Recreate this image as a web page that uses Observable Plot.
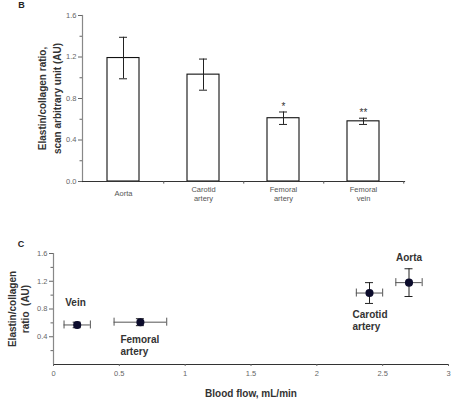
<!DOCTYPE html>
<html>
<head>
<meta charset="utf-8">
<script src="https://cdn.jsdelivr.net/npm/d3@7"></script>
<script src="https://cdn.jsdelivr.net/npm/@observablehq/plot@0.6"></script>
<style>
  html, body { margin: 0; padding: 0; background: #fff; }
  #chart { width: 463px; height: 400px; }
  #chart svg { display: block; }
</style>
</head>
<body>
<div id="chart"></div>
<script>
// Panel B: elastin/collagen ratio per vessel (mean ± SEM)
const tissues = ["Aorta", "Carotid artery", "Femoral artery", "Femoral vein"];
const tissueTickLabels = ["Aorta", "Carotid\nartery", "Femoral\nartery", "Femoral\nvein"];
const ratioMean = [1.19, 1.03, 0.61, 0.58];
const ratioSem = [0.20, 0.15, 0.06, 0.03];
const significance = ["", "", "*", "**"];
const yTicksB = [0, 0.4, 0.8, 1.2, 1.6];
const yMinorB = [0.2, 0.6, 1.0, 1.4];

// Panel C: ratio against blood flow (mean ± SEM on both axes)
const sites = ["Aorta", "Carotid artery", "Femoral artery", "Vein"];
const siteLabels = ["Aorta", "Carotid\nartery", "Femoral\nartery", "Vein"];
const bloodFlow = [2.70, 2.40, 0.66, 0.18];
const bloodFlowSem = [0.10, 0.10, 0.20, 0.10];
const siteRatio = [1.18, 1.03, 0.61, 0.57];
const siteRatioSem = [0.20, 0.15, 0.05, 0.04];
const xTicksC = [0, 0.5, 1, 1.5, 2, 2.5, 3];
const yTicksC = [0.4, 0.8, 1.2, 1.6];
const yMinorC = [0.2, 0.6, 1.0, 1.4];

const font = "'Liberation Sans', Arial, Helvetica, sans-serif";
const tickColor = "#666";
const titleColor = "#333";

const bars = tissues.map((t, i) => ({
  tissue: t, label: tissueTickLabels[i], mean: ratioMean[i], sem: ratioSem[i], sig: significance[i]
}));
const points = sites.map((s, i) => ({
  site: s, label: siteLabels[i], flow: bloodFlow[i], flowSem: bloodFlowSem[i],
  ratio: siteRatio[i], ratioSem: siteRatioSem[i]
}));

const W = 463;
const marginLeftB = 82, marginRightB = 59;
const stepB = (W - marginLeftB - marginRightB) / tissues.length;

const chartB = Plot.plot({
  width: W,
  height: 215,
  marginTop: 15,
  marginBottom: 34,
  marginLeft: marginLeftB,
  marginRight: marginRightB,
  style: { fontFamily: font, background: "#fff", overflow: "visible" },
  x: { domain: tissues, paddingInner: 0.6, paddingOuter: 0.3, label: null },
  y: { domain: [0, 1.6], label: null },
  marks: [
    Plot.barY(bars, { x: "tissue", y: "mean", fill: "#fff", stroke: "#111", strokeWidth: 1.1 }),
    Plot.ruleX(bars, { x: "tissue", y1: d => d.mean - d.sem, y2: d => d.mean + d.sem, stroke: "#222", strokeWidth: 1 }),
    Plot.tickY(bars, { x: "tissue", y: d => d.mean + d.sem, stroke: "#222", strokeWidth: 1, insetLeft: 12, insetRight: 12 }),
    Plot.tickY(bars, { x: "tissue", y: d => d.mean - d.sem, stroke: "#222", strokeWidth: 1, insetLeft: 12, insetRight: 12 }),
    Plot.text(bars.filter(d => d.sig), { x: "tissue", y: d => d.mean + d.sem, text: "sig", dy: -2, lineAnchor: "bottom", fontSize: 10, fill: "#333" }),
    // axis lines
    Plot.frame({ anchor: "left", stroke: "#888", strokeWidth: 1.2 }),
    Plot.frame({ anchor: "bottom", stroke: "#333", strokeWidth: 1.2 }),
    // category boundary ticks on the x axis
    Plot.ruleX(tissues, { x: d => d, dx: stepB / 2, y1: 0, y2: -0.025, stroke: "#555", strokeWidth: 1 }),
    Plot.axisY({ ticks: yTicksB, tickFormat: d3.format(".1f"), tickSize: 4, tickPadding: 2, fontSize: 7.5, fill: tickColor, stroke: "#666", label: null }),
    Plot.axisY({ ticks: yMinorB, tickFormat: () => "", tickSize: 2.5, stroke: "#666", label: null }),
    Plot.axisX({ tickFormat: d => tissueTickLabels[tissues.indexOf(d)], tickSize: 0, tickPadding: 12, lineAnchor: "middle", lineHeight: 1.2, fontSize: 7.5, fill: "#555", label: null }),
    Plot.text(["Elastin/collagen ratio,\nscan arbitrary unit (AU)"], {
      frameAnchor: "left", rotate: -90, dx: -34, textAnchor: "middle", lineAnchor: "middle", lineHeight: 1.55,
      fontSize: 10, fontWeight: "bold", fill: titleColor
    }),
    Plot.text(["B"], { frameAnchor: "top-left", dx: 21 - marginLeftB, dy: -10, textAnchor: "middle", lineAnchor: "middle", fontSize: 9, fontWeight: "bold", fill: "#222" })
  ]
});

const marginLeftC = 53;
const chartC = Plot.plot({
  width: W,
  height: 185,
  marginTop: 38,
  marginBottom: 36,
  marginLeft: marginLeftC,
  marginRight: 15,
  style: { fontFamily: font, background: "#fff", overflow: "visible" },
  x: { domain: [0, 3], label: null },
  y: { domain: [0, 1.6], label: null },
  marks: [
    Plot.ruleX([0], { stroke: "#888", strokeWidth: 1.2 }),
    Plot.ruleY([0], { stroke: "#333", strokeWidth: 1.2 }),
    Plot.axisY({ ticks: yTicksC, tickFormat: d3.format(".1f"), tickSize: 4, tickPadding: 2, fontSize: 7.5, fill: tickColor, stroke: "#666", label: null }),
    Plot.axisY({ ticks: yMinorC, tickFormat: () => "", tickSize: 2.5, stroke: "#666", label: null }),
    Plot.axisX({ ticks: xTicksC, tickFormat: d => String(d), tickSize: 2, tickPadding: 4, fontSize: 7.5, fill: tickColor, stroke: "#666", label: null }),
    // horizontal error bars (blood flow)
    Plot.ruleY(points, { y: "ratio", x1: d => d.flow - d.flowSem, x2: d => d.flow + d.flowSem, stroke: "#555", strokeWidth: 1 }),
    Plot.ruleX(points, { x: d => d.flow - d.flowSem, y1: "ratio", y2: "ratio", insetTop: -4, insetBottom: -4, stroke: "#555", strokeWidth: 1 }),
    Plot.ruleX(points, { x: d => d.flow + d.flowSem, y1: "ratio", y2: "ratio", insetTop: -4, insetBottom: -4, stroke: "#555", strokeWidth: 1 }),
    // vertical error bars (ratio)
    Plot.ruleX(points, { x: "flow", y1: d => d.ratio - d.ratioSem, y2: d => d.ratio + d.ratioSem, stroke: "#222", strokeWidth: 1 }),
    Plot.ruleY(points, { y: d => d.ratio - d.ratioSem, x1: "flow", x2: "flow", insetLeft: -4, insetRight: -4, stroke: "#222", strokeWidth: 1 }),
    Plot.ruleY(points, { y: d => d.ratio + d.ratioSem, x1: "flow", x2: "flow", insetLeft: -4, insetRight: -4, stroke: "#222", strokeWidth: 1 }),
    Plot.dot(points, { x: "flow", y: "ratio", r: 3.3, fill: "#0c0c2c", stroke: "#0c0c2c" }),
    // point labels
    Plot.text(points.filter(d => d.site === "Aorta"), { x: "flow", y: "ratio", text: "label", dy: -25, fontSize: 10, fontWeight: "bold", fill: titleColor }),
    Plot.text(points.filter(d => d.site === "Carotid artery"), { x: "flow", y: "ratio", text: "label", dx: -17, dy: 27, textAnchor: "start", lineAnchor: "middle", lineHeight: 1.2, fontSize: 10, fontWeight: "bold", fill: titleColor }),
    Plot.text(points.filter(d => d.site === "Femoral artery"), { x: "flow", y: "ratio", text: "label", dx: -20, dy: 23, textAnchor: "start", lineAnchor: "middle", lineHeight: 1.2, fontSize: 10, fontWeight: "bold", fill: titleColor }),
    Plot.text(points.filter(d => d.site === "Vein"), { x: "flow", y: "ratio", text: "label", dx: -12, dy: -22, textAnchor: "start", fontSize: 10, fontWeight: "bold", fill: titleColor }),
    Plot.text(["Elastin/collagen\nratio  (AU)"], {
      frameAnchor: "left", rotate: -90, dx: -35.5, textAnchor: "middle", lineAnchor: "middle", lineHeight: 1.3,
      fontSize: 10, fontWeight: "bold", fill: titleColor
    }),
    Plot.text(["Blood flow, mL/min"], { frameAnchor: "bottom", dy: 29.5, lineAnchor: "middle", fontSize: 10, fontWeight: "bold", fill: titleColor }),
    Plot.text(["C"], { frameAnchor: "top-left", dx: 20.5 - marginLeftC, dy: -9, textAnchor: "middle", lineAnchor: "middle", fontSize: 9, fontWeight: "bold", fill: "#222" })
  ]
});

const root = document.getElementById("chart");
root.appendChild(chartB);
root.appendChild(chartC);
</script>
</body>
</html>
